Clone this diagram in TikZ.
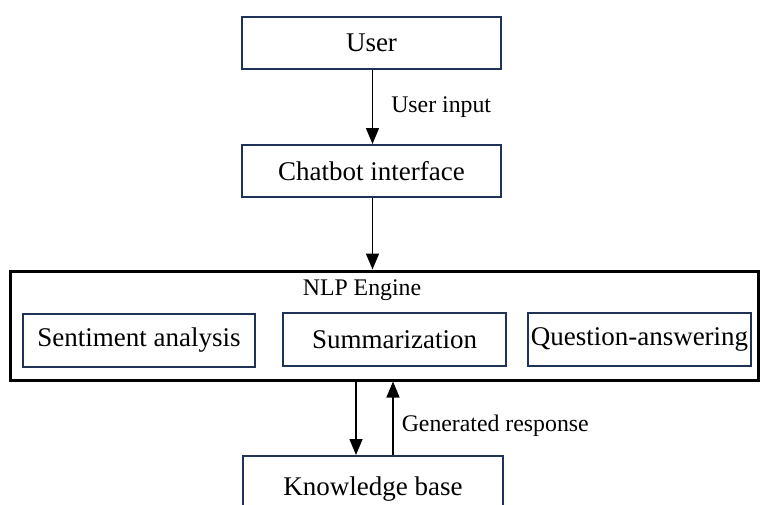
\documentclass[tikz,border=0pt]{standalone}
\usepackage{fontspec}
\setmainfont{Liberation Serif}
\usetikzlibrary{arrows.meta}
\definecolor{navy}{RGB}{32,50,86}
\begin{document}
\begin{tikzpicture}[x=1pt,y=-1pt,
  box/.style={draw=navy,line width=2pt,inner sep=0pt,font=\fontsize{27}{31}\selectfont,fill=white},
  outer/.style={draw=black,line width=3pt,inner sep=0pt},
  lbl/.style={font=\fontsize{23.8}{28}\selectfont,inner sep=0pt},
  arr/.style={line width=1.5pt,-{Triangle[length=16pt,width=13pt]}}]
\useasboundingbox (0,0) rectangle (761,504);
\clip (0,0) rectangle (761,504);
\node[box,minimum width=259pt,minimum height=52pt] (user) at (371.5,43) {User};
\node[box,minimum width=259pt,minimum height=52pt] (chat) at (371.5,171) {Chatbot interface};
\node[outer,minimum width=748pt,minimum height=109pt] (nlp) at (384,325.5) {};
\node[lbl] (nlpt) at (362,290) {NLP Engine};
\node[box,minimum width=232pt,minimum height=53pt] (sent) at (139,340.5) {Sentiment analysis};
\node[box,minimum width=223pt,minimum height=53pt] (summ) at (394.5,339.5) {Summarization};
\node[box,minimum width=223pt,minimum height=53pt] (qa) at (639.5,339.5) {Question-answering};
\node[box,minimum width=260pt,minimum height=80pt] (kb) at (373,496) {};
\node[font=\fontsize{27}{31}\selectfont,inner sep=0pt] (kbt) at (373,489) {Knowledge base};
\draw[arr] (user.south -| 372.5,0) -- (chat.north -| 372.5,0)
  node[lbl,midway,anchor=west,xshift=18pt] (ui) {User input};
\draw[arr] (chat.south -| 372.5,0) -- (nlp.north -| 372.5,0);
\draw[arr] ([xshift=-17pt]kb.north |- nlp.south) -- ([xshift=-17pt]kb.north);
\draw[arr] ([xshift=20pt]kb.north) -- ([xshift=20pt]kb.north |- nlp.south)
  node[lbl,midway,anchor=west,xshift=8pt,yshift=-8pt] (gr) {Generated response};
\end{tikzpicture}
\end{document}
